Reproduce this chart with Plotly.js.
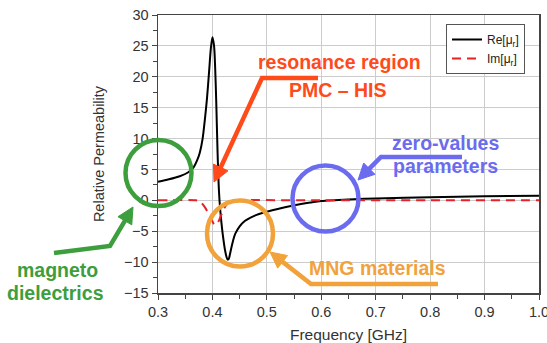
<!DOCTYPE html>
<html>
<head>
<meta charset="utf-8">
<script src="https://cdn.plot.ly/plotly-3.0.1.min.js"></script>
<style>html,body{margin:0;padding:0;background:#fff;}#chart{width:547px;height:343px;}</style>
</head>
<body>
<div id="chart"></div>
<script>
// ---- data ----
const freqRe = [0.30,0.32,0.34,0.355,0.365,0.372,0.377,0.382,0.386,0.390,0.394,0.397,0.400,0.403,0.405,0.407,0.4095,0.412,0.414,0.417,0.420,0.423,0.426,0.428,0.430,0.432,0.435,0.438,0.442,0.450,0.460,0.470,0.480,0.490,0.500,0.520,0.550,0.580,0.600,0.650,0.700,0.800,0.900,1.000];
const reMu   = [3.0,3.4,3.9,4.5,5.3,6.5,7.8,10.0,13.0,16.5,21.0,24.5,26.4,25.0,21.5,16.0,7.6,1.5,-1.2,-4.0,-6.2,-8.0,-9.2,-9.6,-9.5,-8.8,-7.6,-6.5,-5.4,-4.2,-3.3,-2.8,-2.4,-2.1,-1.85,-1.4,-0.8,-0.35,-0.1,0.15,0.3,0.5,0.65,0.75];
const freqIm = [0.30,0.37,0.375,0.380,0.386,0.392,0.398,0.404,0.410,0.415,0.420,0.425,0.430,0.440,0.450,0.600,0.800,1.000];
const imMu   = [0,0,-0.1,-0.4,-1.1,-2.0,-3.0,-4.0,-3.6,-2.6,-1.6,-0.8,-0.3,-0.1,0,0,0,0];
const seriesNames = ['Re[μ<sub>r</sub>]','Im[μ<sub>r</sub>]'];
const xTicks = [0.3,0.4,0.5,0.6,0.7,0.8,0.9,1.0];
const xTickText = ['0.3','0.4','0.5','0.6','0.7','0.8','0.9','1.0'];
const yTicks = [-15,-10,-5,0,5,10,15,20,25,30];
const labelTexts = ['<b>resonance region</b>','<b>PMC – HIS</b>','<b>zero-values</b>','<b>parameters</b>','<b>MNG materials</b>','<b>magneto</b>','<b>dielectrics</b>'];

// ---- layout geometry (pixels) ----
const W = 547, H = 343, ML = 158, MR = 8, MT = 15, MB = 50;
const PW = W - ML - MR, PH = H - MT - MB;
const X = px => (px - ML) / PW;
const Y = py => (H - MB - py) / PH;

const RED = '#ff4a1a', GREEN = '#3d9e3d', ORANGE = '#f2a23a', BLUE = '#6b6bf0';

function circle(cx, cy, r, color) {
  return {type:'circle', xref:'paper', yref:'paper', x0:X(cx-r), x1:X(cx+r), y0:Y(cy+r), y1:Y(cy-r),
          line:{color:color, width:4.5}, fillcolor:'rgba(0,0,0,0)'};
}
function arrow(points, color, lw, L, Wd) {
  const n = points.length;
  const [tx, ty] = points[n-1], [px, py] = points[n-2];
  const dx = tx - px, dy = ty - py, d = Math.hypot(dx, dy);
  const ux = dx/d, uy = dy/d, nx = -uy, ny = ux;
  const bx = tx - ux*L, by = ty - uy*L;
  let p = 'M ' + X(points[0][0]) + ' ' + Y(points[0][1]);
  for (let i = 1; i < n-1; i++) p += ' L ' + X(points[i][0]) + ' ' + Y(points[i][1]);
  p += ' L ' + X(bx + ux*2) + ' ' + Y(by + uy*2);
  const head = 'M ' + X(tx) + ' ' + Y(ty) + ' L ' + X(bx + nx*Wd) + ' ' + Y(by + ny*Wd) +
               ' L ' + X(bx - nx*Wd) + ' ' + Y(by - ny*Wd) + ' Z';
  return [
    {type:'path', xref:'paper', yref:'paper', path:p, line:{color:color, width:lw}},
    {type:'path', xref:'paper', yref:'paper', path:head, line:{color:color, width:1}, fillcolor:color}
  ];
}
function label(text, cx, cy, color, size) {
  return {xref:'paper', yref:'paper', x:X(cx), y:Y(cy), xanchor:'center', yanchor:'middle', text:text,
          showarrow:false, font:{family:'Liberation Sans, Arial, sans-serif', size:size, color:color}};
}

const shapes = [].concat(
  [circle(158.5, 173, 33, GREEN), circle(240, 233.5, 33, ORANGE), circle(325.5, 198.5, 33, BLUE)],
  arrow([[318,78],[262,78],[214,182]], RED, 4.5, 16, 8),
  arrow([[54,253],[110,246],[133,207]], GREEN, 4.5, 16, 8),
  arrow([[438,284],[311,284],[270,252]], ORANGE, 4.5, 16, 8),
  arrow([[462,157],[381,157],[358,180]], BLUE, 4.5, 16, 8)
);

const annotations = [
  label(labelTexts[0], 339, 62, RED, 19.5),
  label(labelTexts[1], 338, 90, RED, 19.5),
  label(labelTexts[2], 445, 143, BLUE, 19.5),
  label(labelTexts[3], 445, 166, BLUE, 19.5),
  label(labelTexts[4], 377, 268, ORANGE, 19.5),
  label(labelTexts[5], 57, 270, GREEN, 19.5),
  label(labelTexts[6], 56, 293, GREEN, 19.5)
];

const traces = [
  {x:freqRe, y:reMu, name:seriesNames[0], type:'scatter', mode:'lines',
   line:{color:'#000000', width:2, shape:'spline', smoothing:0.8}},
  {x:freqIm, y:imMu, name:seriesNames[1], type:'scatter', mode:'lines',
   line:{color:'#e8202a', width:2, dash:'9px,6px', shape:'spline', smoothing:0.8}}
];

const axisCommon = {
  showline:true, linecolor:'#444', linewidth:1.5, mirror:true,
  gridcolor:'#cccccc', gridwidth:1, zeroline:false,
  ticks:'outside', ticklen:5, tickcolor:'#444', tickwidth:1,
  ticklabeloverflow:'allow',
  tickfont:{family:'Liberation Sans, Arial, sans-serif', size:14.5, color:'#333'}
};

const layout = {
  width:W, height:H,
  margin:{l:ML, r:MR, t:MT, b:MB, pad:0},
  paper_bgcolor:'#ffffff', plot_bgcolor:'#ffffff',
  font:{family:'Liberation Sans, Arial, sans-serif', color:'#333'},
  showlegend:true,
  legend:{x:X(525), xanchor:'right', y:Y(24), yanchor:'top', bgcolor:'#ffffff',
          bordercolor:'#555', borderwidth:1, font:{size:12, color:'#222'}, tracegroupgap:0},
  xaxis:Object.assign({}, axisCommon, {
    range:[0.3,1.0], tickvals:xTicks, ticktext:xTickText,
    minor:{dtick:0.05, ticklen:4, tickcolor:'#444', ticks:'outside', showgrid:false},
    title:{text:'Frequency [GHz]', font:{size:15.5, color:'#333'}, standoff:10}
  }),
  yaxis:Object.assign({}, axisCommon, {
    range:[-15,30], tickvals:yTicks,
    minor:{dtick:2.5, ticklen:4, tickcolor:'#444', ticks:'outside', showgrid:false},
    title:{text:'Relative Permeability', font:{size:14.5, color:'#333'}, standoff:16}
  }),
  shapes:shapes, annotations:annotations
};

Plotly.newPlot('chart', traces, layout, {displayModeBar:false, staticPlot:true});
</script>
</body>
</html>
